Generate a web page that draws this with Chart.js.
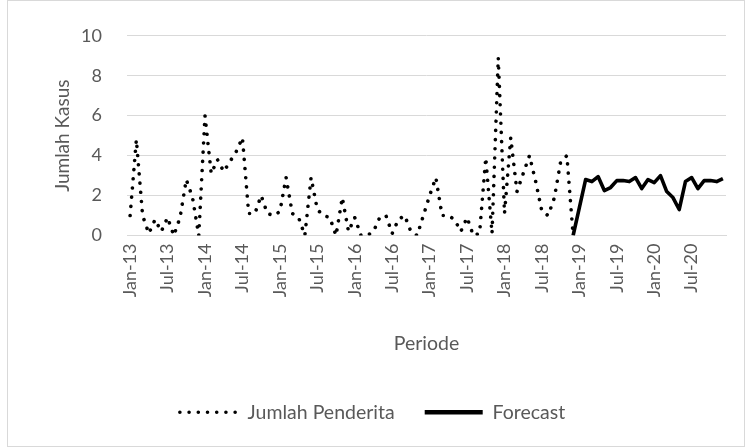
<!DOCTYPE html>
<html>
<head>
<meta charset="utf-8">
<script src="https://cdn.jsdelivr.net/npm/chart.js@4.4.1/dist/chart.umd.min.js"></script>
<style>
  html, body { margin: 0; padding: 0; background: #ffffff; }
  #wrap { position: relative; width: 745px; height: 447px; }
  canvas { display: block; }
</style>
</head>
<body>
<div id="wrap"><canvas id="chart" width="745" height="447"></canvas></div>
<script>
// Month names and years used for the category axis (Jan-13 .. Dec-20)
const monthNames = ['Jan', 'Feb', 'Mar', 'Apr', 'May', 'Jun', 'Jul', 'Aug', 'Sep', 'Oct', 'Nov', 'Dec'];
const years = ['13', '14', '15', '16', '17', '18', '19', '20'];

// Recorded monthly cases, Jan-13 .. Dec-18
const penderita2013 = [1.0, 4.8, 1.0, 0.1, 0.8, 0.2, 0.9, 0.0, 0.9, 2.8, 1.9, 0.0];
const penderita2014 = [6.0, 3.1, 3.8, 3.2, 3.7, 4.2, 4.9, 1.1, 1.1, 2.0, 1.1, 1.0];
const penderita2015 = [1.2, 2.9, 1.1, 0.9, 0.0, 2.9, 1.3, 1.0, 0.9, 0.0, 1.9, 0.2];
const penderita2016 = [0.9, 0.0, 0.0, 0.2, 0.9, 1.0, 0.1, 0.8, 1.0, 0.2, 0.0, 1.0];
const penderita2017 = [2.0, 2.9, 1.0, 1.0, 0.8, 0.2, 0.9, 0.0, 0.1, 3.9, 0.1, 8.9];
const penderita2018 = [1.1, 4.9, 2.2, 3.1, 4.0, 2.7, 1.2, 1.0, 1.9, 3.7, 4.0, 0.0];

// Forecast, Dec-18 .. Dec-20
const forecastValues = [0.0, 1.4, 2.8, 2.7, 2.95, 2.25, 2.4, 2.75, 2.75, 2.7, 2.9, 2.35, 2.8,
                        2.65, 3.0, 2.2, 1.9, 1.3, 2.7, 2.9, 2.35, 2.75, 2.75, 2.7, 2.85];

// Y axis ticks
const yTicks = [0, 2, 4, 6, 8, 10];

const labels = [];
years.forEach(y => monthNames.forEach(m => labels.push(m + '-' + y)));

const penderita = [].concat(penderita2013, penderita2014, penderita2015,
                            penderita2016, penderita2017, penderita2018);
const penderitaData = labels.map((_, i) => i < penderita.length ? penderita[i] : null);
const forecastStart = labels.length - forecastValues.length;
const forecastData = labels.map((_, i) => i >= forecastStart ? forecastValues[i - forecastStart] : null);

const FONT = 'Lato, "Open Sans", sans-serif';
const TEXT = '#595959';
const GRID = '#d9d9d9';

// Light frame around the whole chart
const framePlugin = {
  id: 'frame',
  afterDraw(chart) {
    const ctx = chart.ctx;
    ctx.save();
    ctx.strokeStyle = GRID;
    ctx.lineWidth = 1;
    ctx.strokeRect(7.5, 0.5, 737, 446);
    ctx.restore();
  }
};

// Center the legend on the whole canvas rather than on the plot column
const legendShift = {
  id: 'legendShift',
  afterLayout(chart) {
    const lg = chart.legend;
    if (!lg) return;
    const dx = -14;
    lg.left += dx;
    lg.right += dx;
  }
};

new Chart(document.getElementById('chart'), {
  type: 'line',
  data: {
    labels: labels,
    datasets: [
      {
        label: 'Jumlah Penderita',
        data: penderitaData,
        borderColor: '#000000',
        backgroundColor: '#000000',
        borderWidth: 3.6,
        borderDash: [0.01, 9.2],
        borderCapStyle: 'round',
        borderJoinStyle: 'round',
        pointRadius: 0,
        tension: 0,
        spanGaps: false
      },
      {
        label: 'Forecast',
        data: forecastData,
        borderColor: '#000000',
        backgroundColor: '#000000',
        borderWidth: 3.6,
        borderCapStyle: 'butt',
        borderJoinStyle: 'round',
        pointRadius: 0,
        tension: 0,
        spanGaps: false
      }
    ]
  },
  options: {
    responsive: false,
    animation: false,
    devicePixelRatio: 1,
    layout: { padding: { left: 47, right: 19, top: 35, bottom: 15 } },
    plugins: {
      legend: {
        position: 'bottom',
        labels: {
          usePointStyle: true,
          pointStyle: 'line',
          pointStyleWidth: 58,
          boxHeight: 10,
          padding: 30,
          color: TEXT,
          font: { family: FONT, size: 19.5 },
          generateLabels(chart) {
            const items = Chart.defaults.plugins.legend.labels.generateLabels(chart);
            items.forEach(it => {
              const ds = chart.data.datasets[it.datasetIndex];
              it.pointStyle = 'line';
              it.strokeStyle = ds.borderColor;
              it.lineDash = ds.borderDash || [];
              it.lineDashOffset = 0;
              it.lineCap = ds.borderCapStyle;
              it.lineWidth = ds.borderDash ? ds.borderWidth : 4.5;
              it.fontColor = TEXT;
            });
            return items;
          }
        }
      },
      tooltip: { enabled: false }
    },
    scales: {
      x: {
        type: 'category',
        offset: true,
        grid: { display: false, drawTicks: false },
        border: { display: true, color: GRID, width: 1 },
        ticks: {
          autoSkip: false,
          minRotation: 90,
          maxRotation: 90,
          padding: 8,
          color: TEXT,
          font: { family: FONT, size: 18 },
          callback: function (value, index) {
            return index % 6 === 0 ? labels[index] : null;
          }
        },
        title: {
          display: true,
          text: 'Periode',
          color: TEXT,
          font: { family: FONT, size: 19.5 },
          padding: { top: 4, bottom: 17 }
        },
        afterFit(scale) { scale.height = 137; }
      },
      y: {
        min: 0,
        max: 10,
        afterBuildTicks(scale) { scale.ticks = yTicks.map(v => ({ value: v })); },
        grid: { color: GRID, lineWidth: 1, drawTicks: false },
        border: { display: false },
        ticks: {
          padding: 25,
          color: TEXT,
          font: { family: FONT, size: 18 }
        },
        title: {
          display: true,
          text: 'Jumlah Kasus',
          color: TEXT,
          font: { family: FONT, size: 19 },
          padding: { top: 4, bottom: 4 }
        },
        afterFit(scale) { scale.width = 80; }
      }
    }
  },
  plugins: [framePlugin, legendShift]
});
</script>
</body>
</html>
